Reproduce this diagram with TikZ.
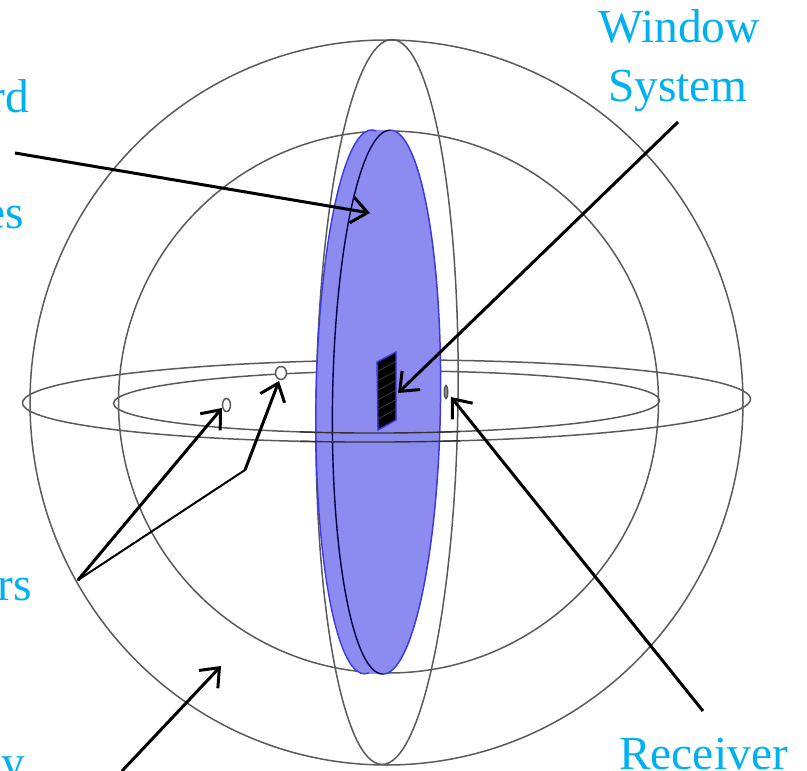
\documentclass[tikz,border=0pt]{standalone}
\usepackage{fontspec}
\setmainfont{Liberation Serif}
\usetikzlibrary{arrows.meta,shapes.geometric,calc}
\definecolor{lab}{HTML}{00B0F0}
\definecolor{disc}{HTML}{8C8CF0}
\definecolor{discedge}{HTML}{3A3AE0}
\definecolor{wire}{HTML}{5A5A5A}
\tikzset{
  wireline/.style={draw=wire,line width=1.5pt},
  label text/.style={text=lab,font=\fontsize{47.5}{60}\selectfont,inner sep=0pt,align=center},
  pointer/.style={draw=black,line width=3pt,-{Straight Barb[length=16pt,width=26pt,line width=3pt]}},
  hole/.style={ellipse,draw=wire,fill=white,line width=1.5pt,inner sep=0pt,minimum width=#1},
}
\begin{document}
\begin{tikzpicture}[x=1pt,y=-1pt]
\useasboundingbox (0,0) rectangle (807,771);
\clip (0,0) rectangle (807,771);
% spheres
\draw[wireline] (386.5,402.5) ellipse [x radius=356.5,y radius=362.5];
\draw[wireline] (388.5,402) ellipse [x radius=270,y radius=271];
% equator rings
\draw[wireline,rotate around={0.3:(386.5,401)}] (386.5,401) ellipse [x radius=364,y radius=41];
\draw[wireline,rotate around={0.3:(386.5,402)}] (386.5,402) ellipse [x radius=273,y radius=31];
% meridian ring
\draw[wireline,rotate around={-0.8:(387,402)}] (387,402) ellipse [x radius=71,y radius=362.5];
% disc
\begin{scope}[rotate around={-0.8:(378,402)}]
\fill[disc] (368,402) ellipse [x radius=52,y radius=272];
\fill[disc] (368,130) rectangle (386.5,674);
\fill[disc] (386.5,402) ellipse [x radius=54,y radius=272];
\draw[discedge,line width=1.4pt] (368,402) ++(-52,0) arc[start angle=180,end angle=85,x radius=52,y radius=272];
\draw[discedge,line width=1.4pt] (368,402) ++(-52,0) arc[start angle=180,end angle=275,x radius=52,y radius=272];
\draw[discedge,line width=1.5pt] (386.5,402) ++(0,-272) arc[start angle=-90,end angle=90,x radius=54,y radius=272];
\draw[line width=1.4pt,draw=black!75!blue] (386.5,402) ++(0,-272) arc[start angle=270,end angle=90,x radius=54,y radius=272];
\end{scope}
% ring fronts over the disc
\begin{scope}
\clip (300,415) rectangle (460,460);
\draw[draw=black!80,line width=1.4pt,rotate around={0.3:(386.5,401)}] (386.5,401) ellipse [x radius=364,y radius=41];
\draw[draw=black!80,line width=1.4pt,rotate around={0.3:(386.5,402)}] (386.5,402) ellipse [x radius=273,y radius=31];
\end{scope}
% window system
\draw[fill=black,draw=discedge,line width=1.4pt] (377,362) -- (396,352) -- (396,420) -- (378,430) -- cycle;
\foreach \t in {0.14,0.28,0.42,0.56,0.70,0.84}
  \draw[black!75,line width=0.7pt] ($(377,362)!\t!(378,430)$) -- ($(396,352)!\t!(396,420)$);
% small antennas
\node[hole=8pt,minimum height=13pt] (txa) at (226.5,405) {};
\node[hole=11pt,minimum height=13pt] (txb) at (281,373) {};
\node[hole=3.5pt,minimum height=13pt,fill=black!45] (rx) at (446,392) {};
% labels (cut by the picture edge as in the source)
\node[label text,anchor=base east] (lbrd) at (29,112) {rd};
\node[label text,anchor=base east] (lbes) at (24,228) {es};
\node[label text,anchor=base east] (lbrs) at (32,600) {rs};
\node[label text,anchor=base east] (lby) at (25,778) {y};
\node[label text,anchor=base] (lbwin) at (679,42) {Window};
\node[label text,anchor=base] (lbsys) at (678,101) {System};
\node[label text,anchor=base] (lbrec) at (703.5,769) {Receiver};
% connector ends
\coordinate (a0) at (15,153);
\coordinate (a1) at (370,213);
\coordinate (b0) at (678,122);
\coordinate (b1) at (398,393);
\coordinate (c0) at (703,711);
\coordinate (c1) at (451,397);
\coordinate (d0) at (78,580);
\coordinate (d1) at (222,408);
\coordinate (d2) at (245,470);
\coordinate (d3) at (279,381);
\coordinate (e0) at (122,771);
\coordinate (e1) at (221,666);
% connectors
\draw[pointer] (a0) -- (a1);
\draw[pointer] (b0) -- (b1);
\draw[pointer] (c0) -- (c1);
\draw[pointer] (d0) -- (d1);
\draw[draw=black,line width=2pt,line cap=round] (d0) -- (d2);
\draw[pointer] (d2) -- (d3);
\draw[pointer] (e0) -- (e1);
\end{tikzpicture}
\end{document}
